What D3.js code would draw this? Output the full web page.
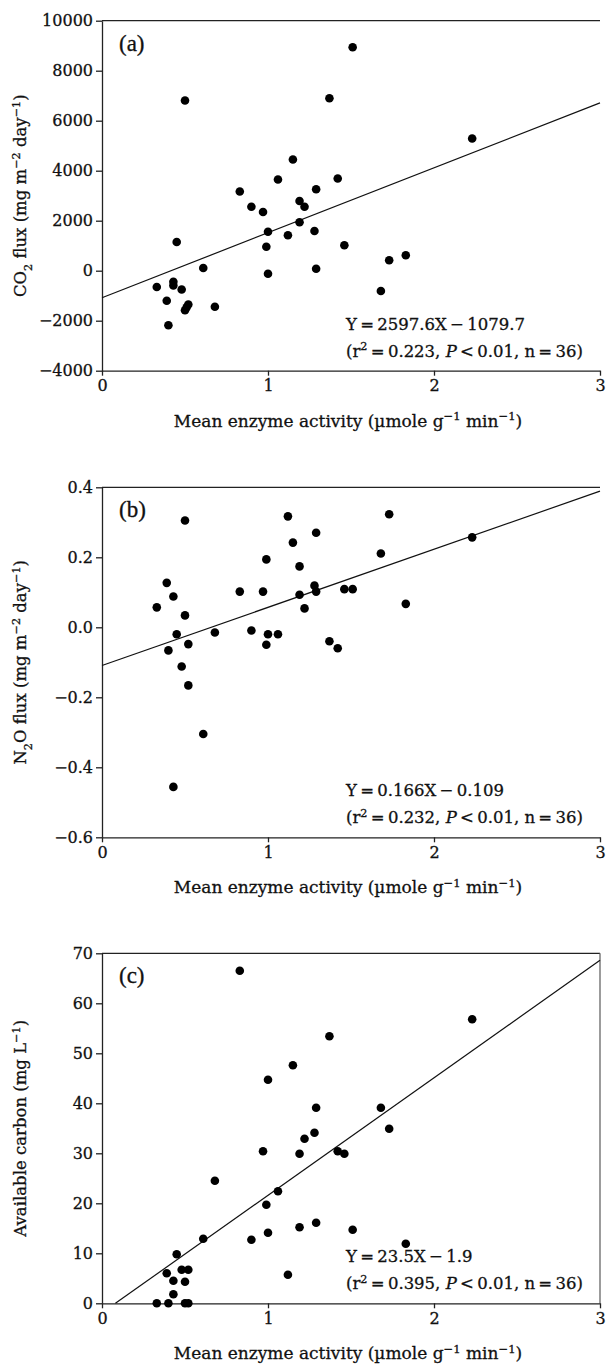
<!DOCTYPE html>
<html>
<head>
<meta charset="utf-8">
<script src="https://cdn.jsdelivr.net/npm/d3@7"></script>
<style>
  body { margin: 0; background: #fff; }
  text { font-family: "DejaVu Serif", "Liberation Serif", serif; fill: #111; stroke: #111; stroke-width: 0.3px; }
</style>
</head>
<body>
<svg id="chart" width="609" height="1369"></svg>
<script>
// Mean enzyme activity (x) and the three responses, one sample per index
const co2Activity = [0.50, 1.37, 1.15, 1.06, 1.42, 0.83, 1.29, 0.90, 0.97, 1.19, 1.22, 1.51,
  2.23, 1.19, 1.00, 1.12, 1.28, 0.99, 1.46, 0.45, 0.61, 1.00, 1.29, 0.33, 0.43, 0.43,
  0.48, 0.39, 0.52, 0.50, 0.51, 0.68, 0.40, 1.73, 1.83, 1.68];
const co2Flux = [6810, 6900, 4450, 3650, 3690, 3170, 3260, 2560, 2350, 2790, 2560, 8940,
  5290, 1940, 1560, 1420, 1590, 960, 1020, 1150, 110, -120, 80, -650, -440, -590,
  -750, -1200, -1350, -1580, -1460, -1440, -2180, 420, 620, -810];

const n2oActivity = [0.50, 1.12, 1.15, 1.29, 0.99, 1.19, 0.39, 0.43, 0.33, 0.50, 0.83, 0.97,
  1.28, 1.19, 1.29, 1.46, 1.22, 0.45, 0.68, 0.90, 1.00, 1.06, 0.52, 0.99, 0.40, 1.37,
  1.42, 1.73, 2.23, 1.68, 1.51, 1.83, 0.48, 0.52, 0.61, 0.43];
const n2oFlux = [0.305, 0.317, 0.242, 0.270, 0.194, 0.174, 0.127, 0.088, 0.057, 0.034, 0.102, 0.102,
  0.119, 0.093, 0.102, 0.109, 0.054, -0.020, -0.015, -0.009, -0.020, -0.020, -0.048, -0.050, -0.066, -0.040,
  -0.060, 0.323, 0.257, 0.211, 0.109, 0.067, -0.112, -0.166, -0.305, -0.456];

const carbonActivity = [0.83, 1.37, 1.15, 1.00, 1.29, 1.28, 1.22, 0.97, 1.19, 1.42, 1.46, 0.68,
  2.23, 1.68, 1.73, 1.06, 0.99, 1.00, 1.19, 1.29, 1.51, 1.83, 0.61, 0.90, 1.12, 0.33,
  0.39, 0.40, 0.43, 0.43, 0.45, 0.48, 0.50, 0.50, 0.52, 0.52];
const availableCarbon = [66.5, 53.4, 47.6, 44.7, 39.1, 34.1, 32.9, 30.4, 29.9, 30.4, 29.9, 24.5,
  56.8, 39.1, 34.9, 22.4, 19.7, 14.1, 15.2, 16.1, 14.7, 11.9, 12.9, 12.7, 5.7, 0,
  6.0, 0, 4.5, 1.8, 9.8, 6.7, 4.3, 0, 6.7, 0];

// regression fits [slope, intercept]
const co2Fit = [2597.6, -1079.7];
const n2oFit = [0.166, -0.109];
const carbonFit = [23.5, -1.9];

const xTicks = [0, 1, 2, 3];
const co2Ticks = [-4000, -2000, 0, 2000, 4000, 6000, 8000, 10000];
const n2oTicks = [-0.6, -0.4, -0.2, 0.0, 0.2, 0.4];
const carbonTicks = [0, 10, 20, 30, 40, 50, 60, 70];

const svg = d3.select('svg#chart');
const left = 102, right = 600, plotH = 350;
const minus = s => s.replace('-', '\u2212\u2009');

const panels = [
  { top: 20.7, letter: '(a)', xs: co2Activity, ys: co2Flux, fit: co2Fit, ticks: co2Ticks,
    fmt: d => minus(d3.format('d')(d)),
    ylabel: [['CO', 0], ['2', -1], [' flux (mg m', 0], ['\u22122', 1], [' day', 0], ['\u22121', 1], [')', 0]],
    eq: 'Y\u2009=\u20092597.6X\u2009\u2212\u20091079.7', stats: ['0.223', '36'], frame: false },
  { top: 487.3, letter: '(b)', xs: n2oActivity, ys: n2oFlux, fit: n2oFit, ticks: n2oTicks,
    fmt: d => minus(d3.format('.1f')(d)),
    ylabel: [['N', 0], ['2', -1], ['O flux (mg m', 0], ['\u22122', 1], [' day', 0], ['\u22121', 1], [')', 0]],
    eq: 'Y\u2009=\u20090.166X\u2009\u2212\u20090.109', stats: ['0.232', '36'], frame: false },
  { top: 953.3, letter: '(c)', xs: carbonActivity, ys: availableCarbon, fit: carbonFit, ticks: carbonTicks,
    fmt: d3.format('d'),
    ylabel: [['Available carbon (mg L', 0], ['\u22121', 1], [')', 0]],
    eq: 'Y\u2009=\u200923.5X\u2009\u2212\u20091.9', stats: ['0.395', '36'], frame: true }
];

// write text with sub/superscripts: level 1 = super, -1 = sub
function richText (sel, parts, size) {
  let lvl = 0;
  parts.forEach(([s, l]) => {
    const shift = (l - lvl) * -0.38 * size;
    sel.append('tspan')
      .attr('dy', shift)
      .attr('font-size', l === 0 ? size : size * 0.68)
      .text(s);
    lvl = l;
  });
}

panels.forEach(p => {
  const bottom = p.top + plotH;
  const x = d3.scaleLinear().domain([0, 3]).range([left, right]);
  const y = d3.scaleLinear().domain(d3.extent(p.ticks)).range([bottom, p.top]);
  const g = svg.append('g');

  // top border (and right one for panel c)
  g.append('line').attr('x1', left).attr('x2', right).attr('y1', p.top).attr('y2', p.top)
    .attr('stroke', '#222').attr('stroke-width', 1.3);
  if (p.frame)
    g.append('line').attr('x1', right).attr('x2', right).attr('y1', p.top).attr('y2', bottom)
      .attr('stroke', '#666').attr('stroke-width', 1.3);

  const ax = g.append('g').attr('transform', `translate(0,${bottom})`)
    .call(d3.axisBottom(x).tickValues(xTicks).tickFormat(d3.format('d')).tickSize(5).tickSizeOuter(0).tickPadding(4));
  const ay = g.append('g').attr('transform', `translate(${left},0)`)
    .call(d3.axisLeft(y).tickValues(p.ticks).tickFormat(p.fmt).tickSize(6).tickSizeOuter(0).tickPadding(3));
  [ax, ay].forEach(a => {
    a.selectAll('path, line').attr('stroke', '#222').attr('stroke-width', 1.3);
    a.selectAll('text').attr('font-size', 16).attr('fill', '#111')
      .style('font-family', '"DejaVu Serif", serif');
  });

  // regression line, clipped to the plot
  const [m, b] = p.fit;
  const [y0, y1] = y.domain();
  let xa = 0, xb = 3;
  if (m * xa + b < y0) xa = (y0 - b) / m;
  if (m * xb + b > y1) xb = (y1 - b) / m;
  g.append('line')
    .attr('x1', x(xa)).attr('y1', y(m * xa + b))
    .attr('x2', x(xb)).attr('y2', y(m * xb + b))
    .attr('stroke', '#111').attr('stroke-width', 1.2);

  // points
  g.selectAll('circle').data(p.xs.map((v, i) => [v, p.ys[i]])).join('circle')
    .attr('cx', d => x(d[0])).attr('cy', d => y(d[1])).attr('r', 4.3).attr('fill', '#000');

  g.append('text').attr('x', 119).attr('y', p.top + 30)
    .attr('font-size', 23).style('font-family', '"Liberation Serif", serif').text(p.letter);

  // equation
  g.append('text').attr('x', 346).attr('y', bottom - 41).attr('font-size', 16.5).text(p.eq);
  const st = g.append('text').attr('x', 346).attr('y', bottom - 14).attr('font-size', 16.5);
  richText(st, [['(r', 0], ['2', 1], ['\u2009=\u2009' + p.stats[0] + ', ', 0]], 16.5);
  st.append('tspan').attr('font-style', 'italic').text('P');
  st.append('tspan').text('\u2009<\u20090.01, n\u2009=\u2009' + p.stats[1] + ')');

  // axis titles
  const xt = g.append('text').attr('x', 348).attr('y', bottom + 56)
    .attr('text-anchor', 'middle').attr('font-size', 17);
  richText(xt, [['Mean enzyme activity (\u00b5mole g', 0], ['\u22121', 1], [' min', 0], ['\u22121', 1], [')', 0]], 17);

  const yt = g.append('text')
    .attr('transform', `translate(26,${p.top + plotH / 2}) rotate(-90)`)
    .attr('text-anchor', 'middle').attr('font-size', 16.5);
  richText(yt, p.ylabel, 16.5);
});
</script>
</body>
</html>
